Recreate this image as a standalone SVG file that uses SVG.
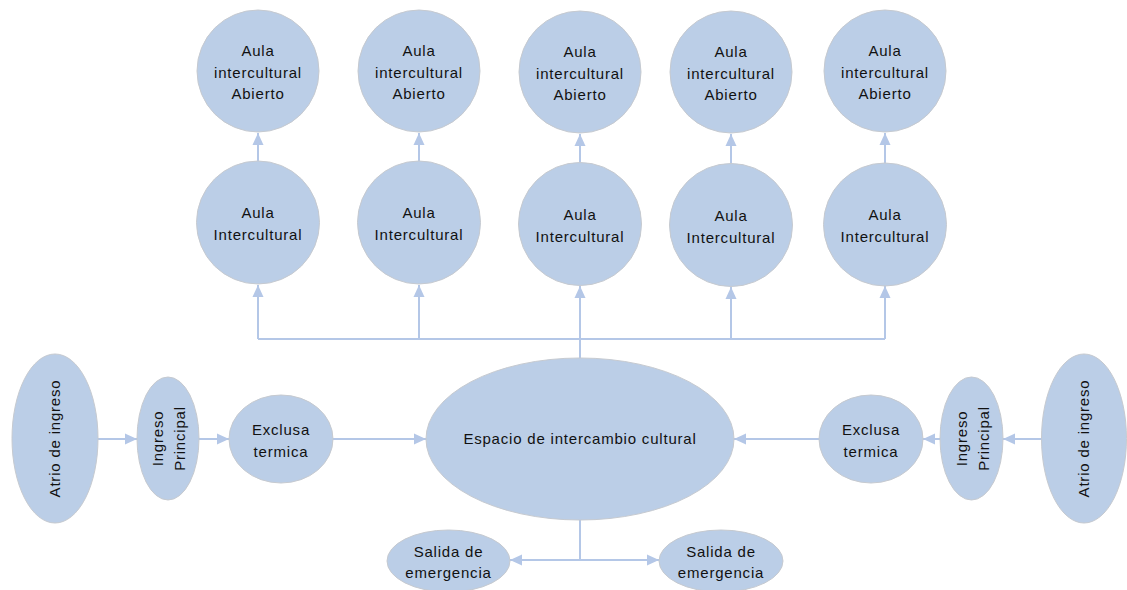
<svg xmlns="http://www.w3.org/2000/svg" width="1127" height="590" viewBox="0 0 1127 590">
<style>
.n{fill:#BBCEE7;stroke:#C6CAD0;stroke-width:1}
.t{font-family:"Liberation Sans",Arial,sans-serif;font-size:15px;letter-spacing:0.8px;fill:#111;text-anchor:middle}
.c{fill:none;stroke:#B4C7E7;stroke-width:2}
</style>
<defs>
<marker id="a" markerUnits="userSpaceOnUse" markerWidth="13" markerHeight="12" refX="12" refY="6" orient="auto">
<path d="M0,0.5 L12,6 L0,11.5 z" fill="#B4C7E7"/>
</marker>
</defs>
<g id="connectors">
<path class="c" d="M258,339 H885"/>
<path class="c" d="M258,339 V285" marker-end="url(#a)"/>
<path class="c" d="M419,339 V285" marker-end="url(#a)"/>
<path class="c" d="M580,358 V286" marker-end="url(#a)"/>
<path class="c" d="M731,339 V287" marker-end="url(#a)"/>
<path class="c" d="M885,339 V286" marker-end="url(#a)"/>
<path class="c" d="M258,161 V133" marker-end="url(#a)"/>
<path class="c" d="M419,161 V133" marker-end="url(#a)"/>
<path class="c" d="M580,162 V134" marker-end="url(#a)"/>
<path class="c" d="M731,163 V134" marker-end="url(#a)"/>
<path class="c" d="M885,163 V133" marker-end="url(#a)"/>
<path class="c" d="M98,439 H137" marker-end="url(#a)"/>
<path class="c" d="M199,439 H229" marker-end="url(#a)"/>
<path class="c" d="M333,439 H426" marker-end="url(#a)"/>
<path class="c" d="M1042,439 H1003" marker-end="url(#a)"/>
<path class="c" d="M940,439 H923" marker-end="url(#a)"/>
<path class="c" d="M819,439 H734" marker-end="url(#a)"/>
<path class="c" d="M580,520 V560"/>
<path class="c" d="M580,560 H510" marker-end="url(#a)"/>
<path class="c" d="M580,560 H659" marker-end="url(#a)"/>
</g>
<g id="abierto1"><circle class="n" cx="258" cy="71" r="61"/><text class="t"><tspan x="258" y="56">Aula</tspan><tspan x="258" y="77.5">intercultural</tspan><tspan x="258" y="99">Abierto</tspan></text></g>
<g id="abierto2"><circle class="n" cx="419" cy="71" r="61"/><text class="t"><tspan x="419" y="56">Aula</tspan><tspan x="419" y="77.5">intercultural</tspan><tspan x="419" y="99">Abierto</tspan></text></g>
<g id="abierto3"><circle class="n" cx="580" cy="72" r="61"/><text class="t"><tspan x="580" y="57">Aula</tspan><tspan x="580" y="78.5">intercultural</tspan><tspan x="580" y="100">Abierto</tspan></text></g>
<g id="abierto4"><circle class="n" cx="731" cy="72" r="61"/><text class="t"><tspan x="731" y="57">Aula</tspan><tspan x="731" y="78.5">intercultural</tspan><tspan x="731" y="100">Abierto</tspan></text></g>
<g id="abierto5"><circle class="n" cx="885" cy="71" r="61"/><text class="t"><tspan x="885" y="56">Aula</tspan><tspan x="885" y="77.5">intercultural</tspan><tspan x="885" y="99">Abierto</tspan></text></g>
<g id="aula1"><circle class="n" cx="258" cy="222.5" r="61.5"/><text class="t"><tspan x="258" y="218">Aula</tspan><tspan x="258" y="240">Intercultural</tspan></text></g>
<g id="aula2"><circle class="n" cx="419" cy="222.5" r="61.5"/><text class="t"><tspan x="419" y="218">Aula</tspan><tspan x="419" y="240">Intercultural</tspan></text></g>
<g id="aula3"><circle class="n" cx="580" cy="224" r="61.5"/><text class="t"><tspan x="580" y="219.5">Aula</tspan><tspan x="580" y="241.5">Intercultural</tspan></text></g>
<g id="aula4"><circle class="n" cx="731" cy="225" r="61.5"/><text class="t"><tspan x="731" y="221">Aula</tspan><tspan x="731" y="243">Intercultural</tspan></text></g>
<g id="aula5"><circle class="n" cx="885" cy="224.5" r="61.5"/><text class="t"><tspan x="885" y="220">Aula</tspan><tspan x="885" y="242">Intercultural</tspan></text></g>
<g id="espacio"><ellipse class="n" cx="580" cy="439" rx="154" ry="81"/><text class="t" x="580" y="444">Espacio de intercambio cultural</text></g>
<g id="atrio-izq"><ellipse class="n" cx="55" cy="438.5" rx="43" ry="84.5"/><text class="t" transform="translate(55,438.5) rotate(-90)" x="0" y="5">Atrio de ingreso</text></g>
<g id="ingreso-izq"><ellipse class="n" cx="168" cy="438.5" rx="31" ry="61.5"/><text class="t" transform="translate(168,438.5) rotate(-90)"><tspan x="0" y="-5">Ingreso</tspan><tspan x="0" y="17">Principal</tspan></text></g>
<g id="exclusa-izq"><ellipse class="n" cx="281" cy="439" rx="52" ry="44"/><text class="t"><tspan x="281" y="435">Exclusa</tspan><tspan x="281" y="457">termica</tspan></text></g>
<g id="exclusa-der"><ellipse class="n" cx="871" cy="439" rx="52" ry="44"/><text class="t"><tspan x="871" y="435">Exclusa</tspan><tspan x="871" y="457">termica</tspan></text></g>
<g id="ingreso-der"><ellipse class="n" cx="971.5" cy="438.5" rx="31.5" ry="61.5"/><text class="t" transform="translate(971.5,438.5) rotate(-90)"><tspan x="0" y="-5">Ingreso</tspan><tspan x="0" y="17">Principal</tspan></text></g>
<g id="atrio-der"><ellipse class="n" cx="1084" cy="438.5" rx="42.5" ry="84.5"/><text class="t" transform="translate(1084,438.5) rotate(-90)" x="0" y="5">Atrio de ingreso</text></g>
<g id="salida-izq"><ellipse class="n" cx="448.5" cy="561" rx="61.5" ry="31"/><text class="t"><tspan x="448.5" y="557">Salida de</tspan><tspan x="448.5" y="578">emergencia</tspan></text></g>
<g id="salida-der"><ellipse class="n" cx="721" cy="561" rx="62" ry="31"/><text class="t"><tspan x="721" y="557">Salida de</tspan><tspan x="721" y="578">emergencia</tspan></text></g>
</svg>
